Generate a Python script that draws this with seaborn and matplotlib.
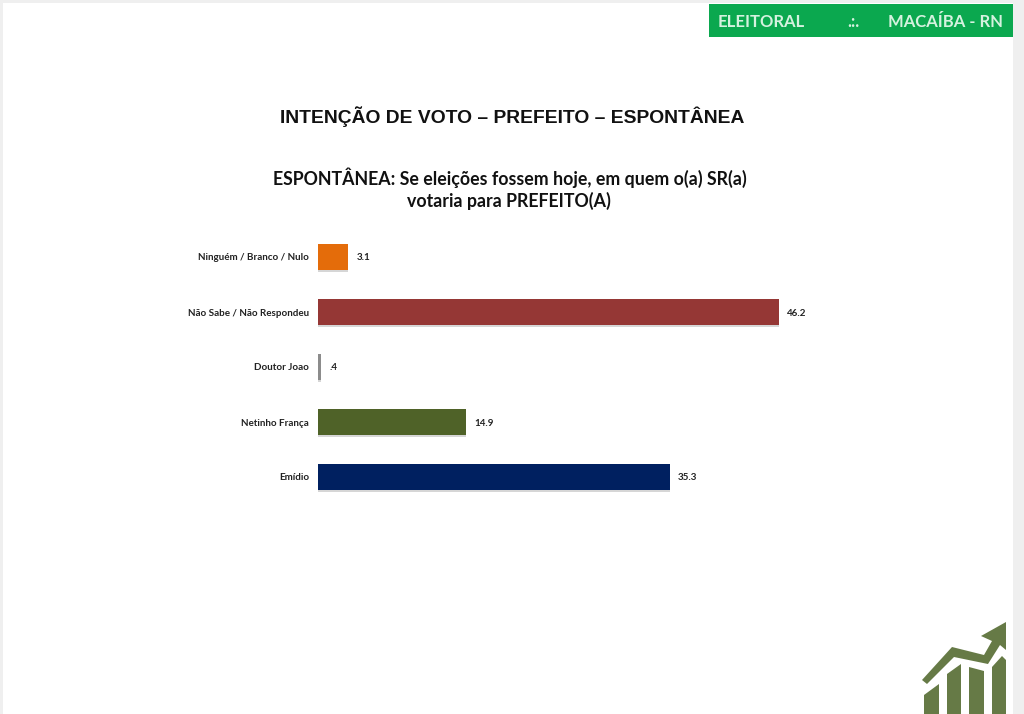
import matplotlib
matplotlib.use("Agg")
import matplotlib.pyplot as plt
import matplotlib.patheffects as pe
from matplotlib.patches import Rectangle, Polygon
import pandas as pd
import seaborn as sns

categories = ["Ninguém / Branco / Nulo", "Não Sabe / Não Respondeu", "Doutor Joao", "Netinho França", "Emídio"]
values = [3.1, 46.2, 0.4, 14.9, 35.3]
value_labels = ["3.1", "46.2", ".4", "14.9", "35.3"]
colors = ["#E46C0A", "#953735", "#8C8C8C", "#4F6228", "#002060"]

W, H = 1024, 714
sns.set_theme(style="white")
plt.rcParams['font.family'] = ['Lato', 'DejaVu Sans']

fig = plt.figure(figsize=(W / 100, H / 100), dpi=100, facecolor="white")

def fx(x): return x / W
def fy(y): return 1 - y / H

# page frame
fig.add_artist(Rectangle((fx(1013), 0), 11 / W, 1, transform=fig.transFigure, fc="#EFEFEF", ec="none"))
fig.add_artist(Rectangle((0, 0), 3 / W, 1, transform=fig.transFigure, fc="#EFEFEF", ec="none"))
fig.add_artist(Rectangle((0, fy(3)), 1, 3 / H, transform=fig.transFigure, fc="#EFEFEF", ec="none"))

# banner
fig.add_artist(Rectangle((fx(709), fy(37)), 304 / W, 33 / H, transform=fig.transFigure, fc="#0BA84F", ec="none"))
banner = dict(color="#D5F2DF", fontsize=12, fontweight="bold", va="center", family=["Lato"])
fig.text(fx(718), fy(22), "ELEITORAL", ha="left", **banner)
fig.text(fx(853), fy(22), ".:.", ha="center", **banner)
fig.text(fx(1003), fy(22), "MACAÍBA - RN", ha="right", **banner)

# titles
fig.text(fx(512), fy(117), "INTENÇÃO DE VOTO – PREFEITO – ESPONTÂNEA", ha="center", va="center",
         fontsize=13.87, fontweight="bold", family=["Liberation Sans"], color="#111111")
fig.text(fx(509.5), fy(178), "ESPONTÂNEA: Se eleições fossem hoje, em quem o(a) SR(a)", ha="center", va="center",
         fontsize=12.75, fontweight="bold", color="#111111")
fig.text(fx(509), fy(201), "votaria para PREFEITO(A)", ha="center", va="center",
         fontsize=12.75, fontweight="bold", color="#111111")

# bar chart
ax = fig.add_axes([fx(317.5), fy(504.5), (800 - 317.5) / W, 275 / H])
ax.patch.set_alpha(0)
df = pd.DataFrame({"categoria": categories, "valor": values})
sns.barplot(data=df, x="valor", y="categoria", hue="categoria", palette=colors, legend=False,
            orient="h", width=0.473, saturation=1, linewidth=0, ax=ax)
ax.set_xlim(0, (800 - 317.5) / 9.98)
ax.set_ylim(4.5, -0.5)
ax.set_xlabel("")
ax.set_ylabel("")
ax.set_xticks([])
ax.tick_params(axis="y", length=0, pad=6, labelsize=7.1)
for t in ax.get_yticklabels():
    t.set_fontweight("bold")
    t.set_color("#222222")
for s in ax.spines.values():
    s.set_visible(False)
for bar in ax.patches:
    bar.set_path_effects([pe.SimplePatchShadow(offset=(0, -1.5), shadow_rgbFace="#999999", alpha=0.4), pe.Normal()])
for i, (v, lab) in enumerate(zip(values, value_labels)):
    ax.annotate(lab, (v, i), xytext=(8, 0), textcoords="offset pixels", ha="left", va="center_baseline",
                fontsize=7.1, fontweight="bold", color="#222222")

# logo
logo = "#667A46"
def poly(points):
    fig.add_artist(Polygon([(fx(x), fy(y)) for x, y in points], closed=True,
                           transform=fig.transFigure, fc=logo, ec="none"))
poly([(924, 714), (924, 695), (939, 684), (939, 714)])
poly([(947, 714), (947, 674), (961, 664), (961, 714)])
poly([(969, 714), (969, 667), (984, 671), (984, 714)])
poly([(992, 714), (992, 667), (1002, 656), (1006, 660), (1006, 714)])
poly([(922, 680), (952, 647), (984, 655), (992, 641), (981, 636), (1006, 622), (1006, 650), (1000, 645),
      (988, 664), (954, 657), (927, 684)])

fig.savefig("out.png", dpi=100, facecolor="white")
